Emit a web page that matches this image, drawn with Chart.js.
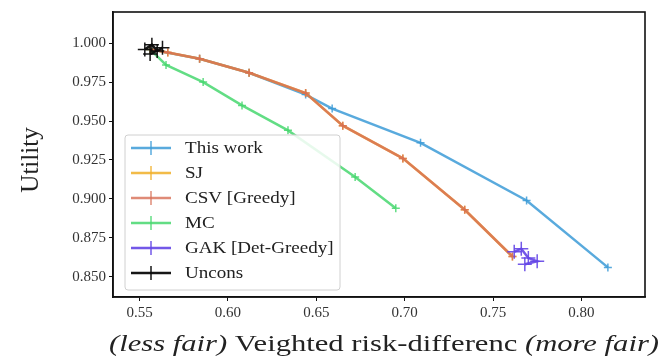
<!DOCTYPE html>
<html>
<head>
<meta charset="utf-8">
<script src="https://cdn.jsdelivr.net/npm/chart.js@4.4.0/dist/chart.umd.min.js"></script>
<style>
  html, body { margin: 0; padding: 0; background: #fff; }
  #wrap { width: 662px; height: 360px; }
</style>
</head>
<body>
<div id="wrap"><canvas id="myChart" width="662" height="360"></canvas></div>
<script>
// values
var xTicks = [0.55, 0.60, 0.65, 0.70, 0.75, 0.80];
var yTicks = [0.850, 0.875, 0.900, 0.925, 0.950, 0.975, 1.000];

var thisWorkX = [0.556, 0.584, 0.612, 0.644, 0.659, 0.709, 0.769, 0.815];
var thisWorkY = [0.996, 0.990, 0.981, 0.967, 0.958, 0.936, 0.899, 0.856];

var sjX = [0.556, 0.566, 0.584, 0.612, 0.644, 0.665, 0.699, 0.734, 0.761];
var sjY = [0.996, 0.994, 0.990, 0.981, 0.968, 0.947, 0.926, 0.893, 0.863];

var csvX = [0.556, 0.566, 0.584, 0.612, 0.644, 0.665, 0.699, 0.734, 0.761];
var csvY = [0.996, 0.994, 0.990, 0.981, 0.968, 0.947, 0.926, 0.893, 0.863];

var mcX = [0.556, 0.565, 0.586, 0.608, 0.634, 0.672, 0.695];
var mcY = [0.996, 0.986, 0.975, 0.960, 0.944, 0.914, 0.894];

var gakX = [0.762, 0.766, 0.770, 0.775, 0.768];
var gakY = [0.866, 0.868, 0.862, 0.860, 0.858];

var unconsX = [0.553, 0.557, 0.560, 0.563, 0.556];
var unconsY = [0.996, 0.999, 0.995, 0.997, 0.993];

function pts(xs, ys) {
  return xs.map(function (x, i) { return { x: x, y: ys[i] }; });
}

var serif = '"Liberation Serif", "DejaVu Serif", serif';

function series(label, xs, ys, color, order, width, radius) {
  return {
    label: label,
    data: pts(xs, ys),
    borderColor: color,
    backgroundColor: color,
    borderWidth: width,
    pointStyle: 'cross',
    pointRadius: radius,
    pointBorderWidth: 1.5,
    pointBorderColor: color,
    showLine: true,
    tension: 0,
    order: order
  };
}

// frame, legend box, y title and mixed-style x title
var extras = {
  id: 'extras',
  afterDatasetsDraw: function (chart) {
    var ctx = chart.ctx, a = chart.chartArea;
    ctx.save();

    // legend
    var lx = 125, ly = 135, lw = 215, lh = 155;
    ctx.fillStyle = 'rgba(255,255,255,0.85)';
    ctx.strokeStyle = '#d0d0d0';
    ctx.lineWidth = 1;
    ctx.beginPath();
    ctx.roundRect(lx, ly, lw, lh, 3);
    ctx.fill();
    ctx.stroke();
    ctx.textBaseline = 'middle';
    chart.data.datasets.forEach(function (ds, i) {
      var y = 148 + i * 25;
      ctx.strokeStyle = ds.borderColor;
      ctx.lineWidth = 2.5;
      ctx.beginPath();
      ctx.moveTo(131, y); ctx.lineTo(171, y);
      ctx.stroke();
      ctx.lineWidth = 1.5;
      ctx.beginPath();
      ctx.moveTo(151, y - 7); ctx.lineTo(151, y + 7);
      ctx.stroke();
      ctx.save();
      ctx.translate(185, y + 1);
      ctx.scale(1.12, 1);
      ctx.font = '17px ' + serif;
      ctx.fillStyle = '#222';
      ctx.textAlign = 'left';
      ctx.fillText(ds.label, 0, 0);
      ctx.restore();
    });

    // frame
    ctx.strokeStyle = '#111';
    ctx.lineWidth = 1.6;
    ctx.strokeRect(a.left, a.top, a.right - a.left, a.bottom - a.top);

    // y title
    ctx.fillStyle = '#222';
    ctx.font = '25px ' + serif;
    ctx.textAlign = 'center';
    ctx.translate(31, 160);
    ctx.rotate(-Math.PI / 2);
    ctx.fillText('Utility', 0, 0);
    ctx.restore();

    // x title, italic and upright parts
    ctx.save();
    var parts = [
      ['italic', '(less fair) '],
      ['normal', 'Veighted risk-differenc '],
      ['italic', '(more fair)']
    ];
    var size = 24, total = 0;
    parts.forEach(function (p) {
      ctx.font = p[0] + ' ' + size + 'px ' + serif;
      total += ctx.measureText(p[1]).width;
    });
    var sx = 550 / total;
    ctx.translate(384 - 275, 345);
    ctx.scale(sx, 1);
    var x = 0;
    ctx.fillStyle = '#222';
    ctx.textBaseline = 'middle';
    ctx.textAlign = 'left';
    parts.forEach(function (p) {
      ctx.font = p[0] + ' ' + size + 'px ' + serif;
      ctx.fillText(p[1], x, 0);
      x += ctx.measureText(p[1]).width;
    });
    ctx.restore();
  }
};

var ctx = document.getElementById('myChart').getContext('2d');
var myChart = new Chart(ctx, {
  type: 'scatter',
  data: {
    datasets: [
      series('This work', thisWorkX, thisWorkY, 'rgba(60,155,215,0.85)', 5, 2.5, 4),
      series('SJ', sjX, sjY, 'rgba(240,175,40,0.85)', 4, 2.5, 4),
      series('CSV [Greedy]', csvX, csvY, 'rgba(215,110,85,0.8)', 2, 2.5, 4),
      series('MC', mcX, mcY, 'rgba(70,215,110,0.85)', 3, 2.5, 4),
      series('GAK [Det-Greedy]', gakX, gakY, 'rgba(100,70,230,0.9)', 1, 2.5, 7),
      series('Uncons', unconsX, unconsY, 'rgba(10,10,10,0.95)', 0, 2.5, 7)
    ]
  },
  options: {
    responsive: false,
    animation: false,
    layout: { padding: { left: 0, top: 12, right: 17, bottom: 0 } },
    plugins: {
      legend: { display: false },
      tooltip: { enabled: false }
    },
    scales: {
      x: {
        type: 'linear',
        min: 0.535,
        max: 0.836,
        afterFit: function (s) { s.height = 63; },
        afterBuildTicks: function (s) { s.ticks = xTicks.map(function (v) { return { value: v }; }); },
        grid: { display: true, drawOnChartArea: false, drawTicks: true, tickLength: 4, color: '#111' },
        border: { display: true, color: '#111', width: 1.6 },
        ticks: {
          color: '#333',
          padding: 3,
          font: { family: serif, size: 15 },
          callback: function (v) { return v.toFixed(2); }
        }
      },
      y: {
        type: 'linear',
        min: 0.837,
        max: 1.020,
        afterFit: function (s) { s.width = 113; },
        afterBuildTicks: function (s) { s.ticks = yTicks.map(function (v) { return { value: v }; }); },
        grid: { display: true, drawOnChartArea: false, drawTicks: true, tickLength: 4, color: '#111' },
        border: { display: true, color: '#111', width: 1.6 },
        ticks: {
          color: '#333',
          padding: 3,
          font: { family: serif, size: 15 },
          callback: function (v) { return v.toFixed(3); }
        }
      }
    }
  },
  plugins: [extras]
});
</script>
</body>
</html>
